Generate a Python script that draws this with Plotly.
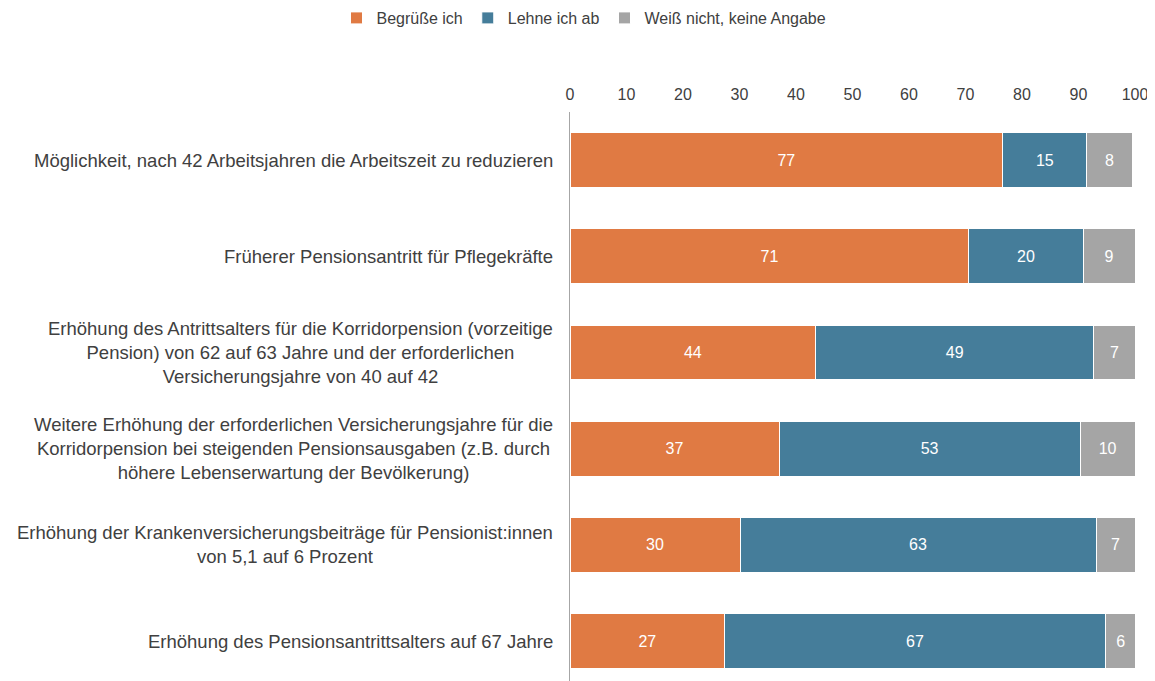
import plotly.graph_objects as go

categories = [
    "Möglichkeit, nach 42 Arbeitsjahren die Arbeitszeit zu reduzieren",
    "Früherer Pensionsantritt für Pflegekräfte",
    "Erhöhung des Antrittsalters für die Korridorpension (vorzeitige<br>Pension) von 62 auf 63 Jahre und der erforderlichen<br>Versicherungsjahre von 40 auf 42",
    "Weitere Erhöhung der erforderlichen Versicherungsjahre für die<br>Korridorpension bei steigenden Pensionsausgaben (z.B. durch<br>höhere Lebenserwartung der Bevölkerung)",
    "Erhöhung der Krankenversicherungsbeiträge für Pensionist:innen<br>von 5,1 auf 6 Prozent",
    "Erhöhung des Pensionsantrittsalters auf 67 Jahre",
]
begruesse = [76.6, 70.6, 43.5, 37.0, 30.1, 27.4]
lehne_ab = [14.9, 20.2, 49.2, 53.3, 63.0, 67.3]
weiss_nicht = [8.0, 9.2, 7.3, 9.7, 6.9, 5.6]
labels_b = [77, 71, 44, 37, 30, 27]
labels_l = [15, 20, 49, 53, 63, 67]
labels_w = [8, 9, 7, 10, 7, 6]
series_names = ["Begrüße ich", "Lehne ich ab", "Weiß nicht, keine Angabe"]
colors = ["#E07A43", "#457D9A", "#A5A5A5"]
tick_vals = list(range(0, 101, 10))

FONT = "Liberation Sans, Arial, sans-serif"
y_idx = list(range(len(categories)))
fig = go.Figure()
for name, vals, labs, col in zip(series_names, [begruesse, lehne_ab, weiss_nicht],
                                  [labels_b, labels_l, labels_w], colors):
    fig.add_trace(go.Bar(
        y=y_idx, x=vals, name=name, orientation="h",
        marker=dict(color=col, line=dict(color="white", width=1)),
        text=[str(v) for v in labs], textposition="inside",
        insidetextanchor="middle", constraintext="none",
        textfont=dict(color="white", size=16, family=FONT),
        hoverinfo="skip",
    ))

for i, c in enumerate(categories):
    fig.add_annotation(
        x=0, xref="paper", y=i, yref="y", text=c, showarrow=False,
        xanchor="right", align="center", xshift=-15,
        font=dict(size=18.5, color="#404040", family=FONT),
    )

fig.update_layout(
    width=1147, height=673,
    barmode="stack", bargap=0.43,
    plot_bgcolor="white", paper_bgcolor="white",
    margin=dict(l=562, r=20, t=104, b=0),
    font=dict(family=FONT, size=16, color="#404040"),
    legend=dict(orientation="h", x=576 / 1147, xref="container", xanchor="center",
                y=1 - 10 / 673, yref="container", yanchor="middle",
                font=dict(size=16, color="#404040"),
                traceorder="normal", itemwidth=30),
    xaxis=dict(side="top", range=[0, 100], tickvals=tick_vals, showgrid=False,
               zeroline=False, showline=False, ticks="", tickfont=dict(size=16, color="#404040"),
               ticklabelstandoff=8),
    yaxis=dict(range=[5.415, -0.5], showticklabels=False, showgrid=False, zeroline=False,
               showline=True, linecolor="#A6A6A6", linewidth=1, ticks=""),
)

fig.write_html("out.html")
